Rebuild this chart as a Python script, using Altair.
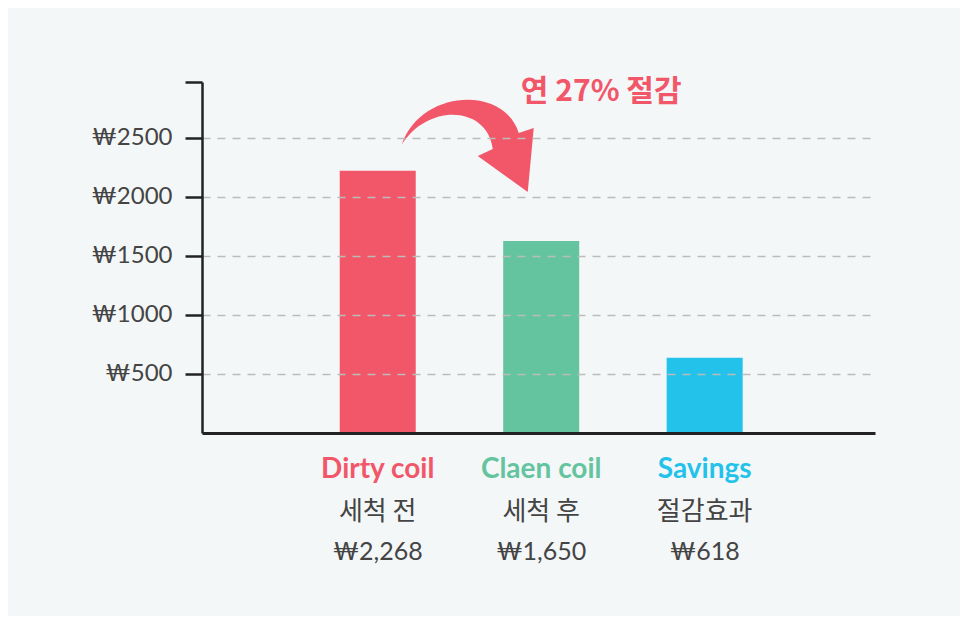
import altair as alt
import pandas as pd

# ---- data ----
categories = ["Dirty coil", "Claen coil", "Savings"]
bar_values = [2218, 1625, 636]
sub_labels = ["세척 전", "세척 후", "절감효과"]
amount_labels = ["₩2,268", "₩1,650", "₩618"]
colors = ["#F25669", "#64C49F", "#22C2EA"]
y_ticks = [500, 1000, 1500, 2000, 2500]
y_max = 2970
annotation_text = ["연 27% 절감"]
annotation_value = [2810]
arrow_value = [2433]

RED = "#F25669"
BG = "#F4F7F8"

df = pd.DataFrame({
    "category": categories,
    "value": bar_values,
    "sub": sub_labels,
    "amount": amount_labels,
    "base": [0] * len(categories),
})
arrow_df = pd.DataFrame({"category": [categories[0]], "value": arrow_value})
note_df = pd.DataFrame({"category": [categories[1]], "value": annotation_value,
                        "text": annotation_text})

x_enc = alt.X(
    "category:N", sort=categories,
    scale=alt.Scale(domain=categories, paddingInner=0.535, paddingOuter=0.826, align=0.51),
    axis=alt.Axis(title=None, labels=False, ticks=False, grid=False,
                  domainColor="#222222", domainWidth=3, zindex=1),
)


def y_enc(field):
    return alt.Y(
        f"{field}:Q",
        scale=alt.Scale(domain=[0, y_max], nice=False, zero=True),
        axis=alt.Axis(
            title=None, values=y_ticks + [y_max],
            labelExpr="datum.value > 2600 ? '' : '₩' + datum.value",
            labelFont="Lato", labelFontSize=24, labelColor="#444444", labelPadding=13,
            tickSize=17, tickWidth=2.5, tickColor="#222222",
            domainColor="#222222", domainWidth=2.5,
            grid=True, gridDash=[8, 7], gridColor="#BBBBBB", gridWidth=1.5,
            gridOpacity={"condition": {"test": "datum.value > 2600", "value": 0}, "value": 1},
            zindex=1,
        ),
    )


color_enc = alt.Color("category:N", scale=alt.Scale(domain=categories, range=colors), legend=None)

bars = alt.Chart(df).mark_bar().encode(x=x_enc, y=y_enc("value"), color=color_enc)

lab1 = alt.Chart(df).mark_text(font="Lato", fontSize=28, fontWeight="bold",
                               baseline="alphabetic", dy=45).encode(
    x=x_enc, y=y_enc("base"), text="category:N", color=color_enc)
lab2 = alt.Chart(df).mark_text(font="Noto Sans CJK KR", fontSize=26, color="#444444",
                               baseline="alphabetic", dy=87).encode(
    x=x_enc, y=y_enc("base"), text="sub:N")
lab3 = alt.Chart(df).mark_text(font="Lato", fontSize=25, color="#444444",
                               baseline="alphabetic", dy=127).encode(
    x=x_enc, y=y_enc("base"), text="amount:N")

ARROW = ("M -1,-0.01 C -0.72,-0.85 0.55,-0.92 0.773,-0.19 "
         "L 1.0,-0.265 L 0.909,0.705 L 0.152,0.159 L 0.379,0.053 "
         "C 0.3,-0.6 -0.6,-0.65 -1,-0.01 Z")

arrow = alt.Chart(arrow_df).mark_point(shape=ARROW, size=17424, filled=True, color=RED,
                                       opacity=1, strokeWidth=0, xOffset=90).encode(
    x=x_enc, y=y_enc("value"))

note = alt.Chart(note_df).mark_text(font="Noto Sans CJK KR", fontSize=30, fontWeight="bold",
                                    color=RED, baseline="alphabetic", dx=60).encode(
    x=x_enc, y=y_enc("value"), text="text:N")

chart = alt.layer(bars, arrow, note, lab1, lab2, lab3).properties(
    width=673, height=351, background=BG,
    autosize=alt.AutoSizeParams(type="none"),
    padding={"left": 194, "top": 74, "right": 85, "bottom": 183},
).configure_view(stroke=None)

chart.save("out.html", embed_options={"renderer": "svg", "actions": False})
